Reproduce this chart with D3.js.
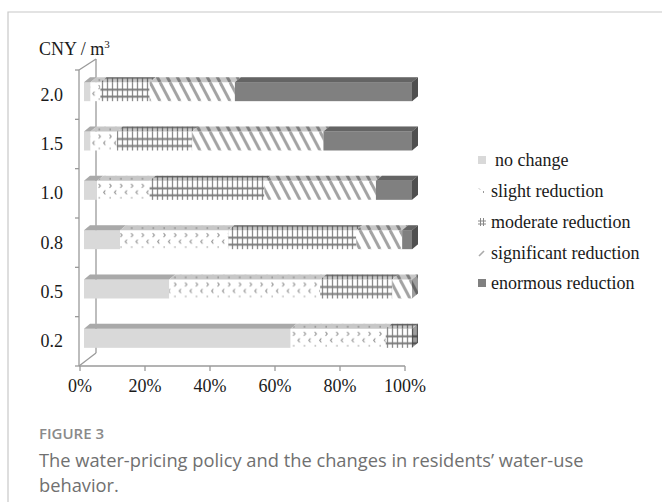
<!DOCTYPE html>
<html>
<head>
<meta charset="utf-8">
<script src="https://cdn.jsdelivr.net/npm/d3@7"></script>
<style>
  html, body { margin: 0; padding: 0; background: #fff; }
  svg { display: block; }
</style>
</head>
<body>
<svg id="chart" width="662" height="502"></svg>
<script>
// ---------- data ----------
const categories = ["2.0", "1.5", "1.0", "0.8", "0.5", "0.2"];
const seriesNames = ["no change", "slight reduction", "moderate reduction", "significant reduction", "enormous reduction"];
const noChange    = [2, 2, 4, 11, 26, 63];
const slight      = [3, 8, 16, 33, 46, 29];
const moderate    = [15, 23, 35, 39, 22, 8];
const significant = [26, 40, 34, 14, 6, 0];
const enormous    = [54, 27, 11, 3, 0, 0];
const xTicks = [0, 20, 40, 60, 80, 100];
const xTickLabels = ["0%", "20%", "40%", "60%", "80%", "100%"];
const yAxisTitle = "CNY / m";
const captionHead = "FIGURE 3";
const captionLines = ["The water-pricing policy and the changes in residents\u2019 water-use", "behavior."];

const seriesValues = [noChange, slight, moderate, significant, enormous];

// ---------- setup ----------
const svg = d3.select("#chart");
const serif = "'Liberation Serif', 'Times New Roman', serif";
const sans = "'Open Sans', 'Noto Sans', sans-serif";
const axisColor = "#9a9a9a";

// frame
svg.append("path").attr("d", "M8,502V12H662").attr("fill", "none").attr("stroke", "#c8c8c8").attr("stroke-width", 1.2);

const y = d3.scaleBand().domain(categories).range([70, 366]);
const xAxisScale = d3.scaleLinear().domain([0, 100]).range([80, 405]);
const xBar = d3.scaleLinear().domain([0, 100]).range([84, 412]);
const dx = 6, dy = -5;           // bar depth
const wdx = 17, wdy = -11;       // wall depth
const barH = 19;

const defs = svg.append("defs");

// patterns per category row (aligned to bar top)
function makePatterns(i, top) {
  // slight
  const ps = defs.append("pattern").attr("id", "p1-" + i).attr("patternUnits", "userSpaceOnUse")
    .attr("x", 0).attr("y", top).attr("width", 10.8).attr("height", barH);
  ps.append("rect").attr("width", 10.8).attr("height", barH).attr("fill", "#fff");
  ps.append("path").attr("d", "M1.5,3 L3.2,5 L1.5,7").attr("fill", "none").attr("stroke", "#8a8a8a").attr("stroke-width", 1.1);
  ps.append("path").attr("d", "M8.2,9.5 L6.5,11.5 L8.2,13.5").attr("fill", "none").attr("stroke", "#8a8a8a").attr("stroke-width", 1.1);
  ps.append("rect").attr("x", 1.5).attr("y", 16.3).attr("width", 1.3).attr("height", 1.3).attr("fill", "#999");
  // moderate
  const pm = defs.append("pattern").attr("id", "p2-" + i).attr("patternUnits", "userSpaceOnUse")
    .attr("x", 0).attr("y", top).attr("width", 5).attr("height", barH);
  pm.append("rect").attr("width", 5).attr("height", barH).attr("fill", "#fff");
  pm.append("line").attr("x1", 2.5).attr("x2", 2.5).attr("y1", 0).attr("y2", barH).attr("stroke", "#8c8c8c").attr("stroke-width", 1.3);
  pm.append("line").attr("x1", 0).attr("x2", 5).attr("y1", 7.5).attr("y2", 7.5).attr("stroke", "#7a7a7a").attr("stroke-width", 2);
  pm.append("line").attr("x1", 0).attr("x2", 5).attr("y1", 14.5).attr("y2", 14.5).attr("stroke", "#7a7a7a").attr("stroke-width", 2);
  // significant
  const pg = defs.append("pattern").attr("id", "p3-" + i).attr("patternUnits", "userSpaceOnUse")
    .attr("x", 0).attr("y", top).attr("width", 10).attr("height", barH);
  pg.append("rect").attr("width", 10).attr("height", barH).attr("fill", "#fff");
  [-10, 0, 10].forEach(o => {
    pg.append("line").attr("x1", o).attr("y1", 0).attr("x2", o + 10).attr("y2", barH)
      .attr("stroke", "#a3a3a3").attr("stroke-width", 3);
  });
}
const fills = (i) => ["#d9d9d9", `url(#p1-${i})`, `url(#p2-${i})`, `url(#p3-${i})`, "#808080"];

// ---------- walls / axes ----------
const wall = svg.append("g").attr("stroke", axisColor).attr("stroke-width", 1.3).attr("fill", "none");
const yTop = y.range()[0], yBot = y.range()[1];
const x0 = xAxisScale(0) - 1;
wall.append("line").attr("x1", x0 + wdx).attr("x2", x0 + wdx).attr("y1", yTop + wdy).attr("y2", yBot + wdy - 2);
wall.append("line").attr("x1", x0).attr("y1", yTop).attr("x2", x0 + wdx).attr("y2", yTop + wdy);
wall.append("line").attr("x1", x0).attr("y1", yBot).attr("x2", x0 + wdx).attr("y2", yBot + wdy - 2);
wall.append("line").attr("x1", x0).attr("x2", x0).attr("y1", yTop).attr("y2", yBot);
// y ticks at band boundaries
const bounds = categories.map(c => y(c)).concat([yBot]);
wall.selectAll(".yt").data(bounds).join("line")
  .attr("x1", x0 - 4).attr("x2", x0).attr("y1", d => d).attr("y2", d => d);
// x axis
wall.append("line").attr("x1", xAxisScale(0) - 1).attr("x2", xAxisScale(100)).attr("y1", yBot).attr("y2", yBot);
wall.selectAll(".xt").data(xTicks).join("line")
  .attr("x1", d => xAxisScale(d)).attr("x2", d => xAxisScale(d)).attr("y1", yBot).attr("y2", yBot + 5);

// ---------- bars ----------
const barsG = svg.append("g");
categories.forEach((cat, i) => {
  const c = y(cat) + y.bandwidth() / 2;
  const top = c - 12.5;
  const bot = top + barH;
  makePatterns(i, top);
  const f = fills(i);
  let cum = 0;
  let lastIdx = -1;
  seriesValues.forEach((s, k) => { if (s[i] > 0) lastIdx = k; });
  seriesValues.forEach((s, k) => {
    const v = s[i];
    if (v <= 0) return;
    const xa = xBar(cum), xb = xBar(cum + v);
    cum += v;
    // front
    barsG.append("rect").attr("x", xa).attr("y", top).attr("width", xb - xa).attr("height", barH).attr("fill", f[k]);
    // top face
    const tp = `M${xa},${top}L${xa + dx},${top + dy}L${xb + dx},${top + dy}L${xb},${top}Z`;
    barsG.append("path").attr("d", tp).attr("fill", f[k]);
    barsG.append("path").attr("d", tp).attr("fill", "#000").attr("fill-opacity", 0.22);
    if (k === lastIdx) {
      const ep = `M${xb},${top}L${xb + dx},${top + dy}L${xb + dx},${bot + dy}L${xb},${bot}Z`;
      barsG.append("path").attr("d", ep).attr("fill", f[k]);
      barsG.append("path").attr("d", ep).attr("fill", "#000").attr("fill-opacity", 0.38);
    }
  });
});

// ---------- text ----------
const txt = svg.append("g").attr("font-family", serif).attr("fill", "#1a1a1a").attr("font-size", 18);
txt.selectAll(".yl").data(categories).join("text")
  .attr("x", 63).attr("y", d => y(d) + y.bandwidth() / 2 + 6).attr("text-anchor", "end").text(d => d);
txt.selectAll(".xl").data(xTicks).join("text")
  .attr("x", d => xAxisScale(d)).attr("y", 392).attr("text-anchor", "middle").text((d, j) => xTickLabels[j]);
const ttl = txt.append("text").attr("x", 39).attr("y", 55).text(yAxisTitle);
ttl.append("tspan").attr("dy", -7).attr("font-size", 11).text("3");

// legend
const legendBase = [166, 197, 228, 259, 289];
const legendFillsRow = 0;
const lg = svg.append("g");
seriesNames.forEach((name, k) => {
  const by = legendBase[k];
  let fill = fills(legendFillsRow)[k];
  if (k > 0 && k < 4) {
    const pid = "lp" + k;
    const p = defs.append("pattern").attr("id", pid).attr("patternUnits", "userSpaceOnUse")
      .attr("x", 478).attr("y", by - 10).attr("width", 8).attr("height", 8);
    p.append("rect").attr("width", 8).attr("height", 8).attr("fill", "#fff");
    if (k === 1) {
      p.append("path").attr("d", "M1,1.5 L2,2.5 M6,4 L5,5 L6,6").attr("stroke", "#999").attr("fill", "none").attr("stroke-width", 1);
    } else if (k === 2) {
      p.append("path").attr("d", "M2.5,0V8M5.5,0V8M0,3H8M0,6H8").attr("stroke", "#888").attr("fill", "none").attr("stroke-width", 1);
    } else {
      p.append("path").attr("d", "M1,7L6,2").attr("stroke", "#aaa").attr("fill", "none").attr("stroke-width", 1.6);
    }
    fill = `url(#${pid})`;
  }
  lg.append("rect").attr("x", 478).attr("y", by - 10).attr("width", 8).attr("height", 8).attr("fill", fill);
  lg.append("text").attr("x", k === 0 ? 495 : 491).attr("y", by)
    .attr("font-family", serif).attr("font-size", 18).attr("fill", "#1a1a1a").text(name);
});

// caption
svg.append("text").attr("x", 39).attr("y", 439).attr("font-family", sans).attr("font-size", 15)
  .attr("font-weight", 600).attr("fill", "#8a8a8a").text(captionHead);
svg.selectAll(".cap").data(captionLines).join("text")
  .attr("x", 39).attr("y", (d, j) => 467 + j * 25)
  .attr("font-family", sans).attr("font-size", 18.3).attr("fill", "#707070").text(d => d);
</script>
</body>
</html>
